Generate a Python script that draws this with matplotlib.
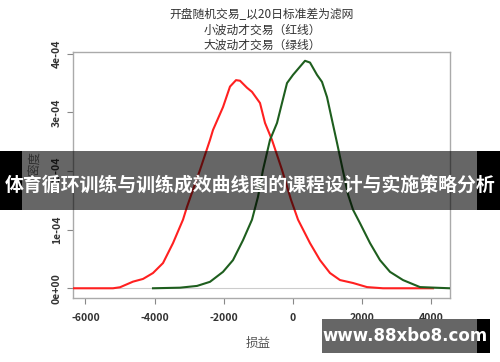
import matplotlib
matplotlib.use("Agg")
import matplotlib.pyplot as plt
from matplotlib.patches import Rectangle

plt.rcParams['font.family'] = ['Noto Sans CJK SC', 'DejaVu Sans']

title_lines = ["开盘随机交易_以20日标准差为滤网", "小波动才交易（红线）", "大波动才交易（绿线）"]
x_label = "损益"
y_label = "密度"
banner_text = "体育循环训练与训练成效曲线图的课程设计与实施策略分析"
watermark_text = "www.88xbo8.com"

x_ticks = [-6000, -4000, -2000, 0, 2000, 4000]
y_ticks = [0, 1e-4, 2e-4, 3e-4, 4e-4]
y_tick_labels = ["0e+00", "1e-04", "2e-04", "3e-04", "4e-04"]

red_x = [-6358, -5202, -5000, -4624, -4335, -4046, -3757, -3468, -3266, -3179, -3063,
         -2687, -2399, -2312, -2023, -1821, -1647, -1532, -1329, -1185, -954, -809,
         -607, -318, -58, 145, 491, 780, 1069, 1358, 1734, 2139, 2601, 4046]
red_y = [0, 0, 0.017e-4, 0.113e-4, 0.159e-4, 0.26e-4, 0.43e-4, 0.77e-4, 1.05e-4, 1.17e-4, 1.39e-4,
         2.02e-4, 2.53e-4, 2.70e-4, 3.09e-4, 3.44e-4, 3.55e-4, 3.54e-4, 3.42e-4, 3.35e-4, 3.16e-4, 2.82e-4,
         2.53e-4, 2.02e-4, 1.51e-4, 1.17e-4, 0.77e-4, 0.48e-4, 0.26e-4, 0.14e-4, 0.09e-4, 0.02e-4, 0, 0]

green_x = [-4046, -3266, -2774, -2399, -2023, -1734, -1445, -1185, -1012, -867, -665,
           -462, -318, -173, 0, 202, 347, 491, 694, 838, 983, 1127, 1272, 1445, 1590,
           1734, 1936, 2226, 2514, 2803, 3179, 3670, 4537]
green_y = [0, 0.01e-4, 0.04e-4, 0.11e-4, 0.28e-4, 0.48e-4, 0.82e-4, 1.17e-4, 1.56e-4, 2.02e-4, 2.53e-4,
           2.82e-4, 3.16e-4, 3.50e-4, 3.64e-4, 3.78e-4, 3.88e-4, 3.85e-4, 3.64e-4, 3.52e-4, 3.26e-4, 2.87e-4,
           2.48e-4, 2.0e-4, 1.6e-4, 1.34e-4, 1.11e-4, 0.77e-4, 0.48e-4, 0.28e-4, 0.14e-4, 0.02e-4, 0]

W, H = 500, 362
fig = plt.figure(figsize=(5, 3.62), dpi=100)
fig.patch.set_facecolor('white')

def fx(px):
    return px / W

def fy(py):
    return 1 - py / H

ax = fig.add_axes([fx(73), fy(298), fx(450) - fx(73), fy(52) - fy(298)])
ax.axhline(0, color='#cccccc', lw=0.8, zorder=1)
ax.plot(red_x, red_y, color='#ff2020', lw=1.5, zorder=3)
ax.plot(green_x, green_y, color='#1e5e1e', lw=1.5, zorder=3)
ax.set_xlim(-6358, 4537)
ax.set_ylim(-0.166e-4, 4.03e-4)

for s in ax.spines.values():
    s.set_color('#aaaaaa')
    s.set_linewidth(1.0)

ax.set_xticks(x_ticks)
ax.set_xticklabels([str(v) for v in x_ticks], fontsize=7.5, fontweight='bold', color='#333333')
ax.set_yticks(y_ticks)
ax.set_yticklabels(y_tick_labels, fontsize=7.5, fontweight='bold', color='#333333',
                   rotation=90, va='center')
ax.tick_params(axis='both', colors='#888888', length=4, width=0.8, labelcolor='#333333', pad=4)
ax.tick_params(axis='x', pad=7)

fig.text(fx(35), fy(163), y_label, rotation=90, fontsize=9, color='#777777', ha='center', va='center')
fig.text(fx(258), fy(343), x_label, fontsize=9, color='#555555', ha='center', va='center')

for i, line in enumerate(title_lines):
    fig.text(fx(262), fy(15 + 15 * i), line, fontsize=8.5, color='#333333', ha='center', va='center')

# banner overlay
fig.patches.append(Rectangle((fx(22), fy(210)), fx(477) - fx(22), fy(151) - fy(210),
                             transform=fig.transFigure, facecolor='black', alpha=0.6,
                             edgecolor='none', zorder=10))
fig.patches.append(Rectangle((0, fy(210)), fx(22), fy(151) - fy(210),
                             transform=fig.transFigure, facecolor='black', edgecolor='none', zorder=10))
fig.patches.append(Rectangle((fx(477), fy(210)), 1 - fx(477), fy(151) - fy(210),
                             transform=fig.transFigure, facecolor='black', edgecolor='none', zorder=10))
fig.text(0.5, fy(185), banner_text, fontsize=13.6, fontweight='bold', color='white',
         ha='center', va='center', zorder=11)

# watermark
fig.patches.append(Rectangle((fx(322), fy(353)), fx(477) - fx(322), fy(319) - fy(353),
                             transform=fig.transFigure, facecolor='#666666', edgecolor='none', zorder=10))
fig.patches.append(Rectangle((fx(477), fy(353)), fx(490) - fx(477), fy(319) - fy(353),
                             transform=fig.transFigure, facecolor='black', edgecolor='none', zorder=10))
fig.text(fx(405), fy(336), watermark_text, fontsize=12, fontweight='bold', color='white',
         ha='center', va='center', zorder=11, family=['DejaVu Sans'])

fig.savefig('out.png', dpi=100)
